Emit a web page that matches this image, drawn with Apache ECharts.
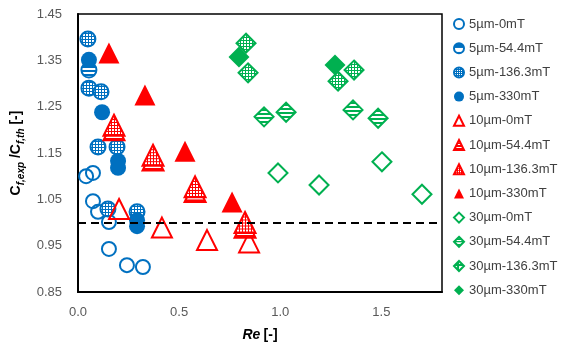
<!DOCTYPE html>
<html>
<head>
<meta charset="utf-8">
<script src="https://cdn.jsdelivr.net/npm/echarts@6/dist/echarts.min.js"></script>
<style>html,body{margin:0;padding:0;background:#fff;}#c{width:574px;height:343px;}</style>
</head>
<body>
<div id="c"></div>
<script>
// ---- data (Re, Cf_exp/Cf_th) ----
const xTickLabels = ['0.0', '0.5', '1.0', '1.5'];
const yTickLabels = ['0.85', '0.95', '1.05', '1.15', '1.25', '1.35', '1.45'];
const seriesNames = ['5µm-0mT','5µm-54.4mT','5µm-136.3mT','5µm-330mT','10µm-0mT','10µm-54.4mT','10µm-136.3mT','10µm-330mT','30µm-0mT','30µm-54.4mT','30µm-136.3mT','30µm-330mT'];
const s5_0 = [[0.040,1.100],[0.074,1.107],[0.074,1.046],[0.099,1.023],[0.153,1.001],[0.153,0.943],[0.242,0.908],[0.321,0.904]];
const s5_54 = [[0.054,1.329]];
const s5_136 = [[0.049,1.396],[0.054,1.290],[0.114,1.282],[0.099,1.163],[0.193,1.163],[0.148,1.029],[0.292,1.023]];
const s5_330 = [[0.054,1.351],[0.119,1.238],[0.198,1.133],[0.198,1.118],[0.292,1.005],[0.292,0.992]];
const s10_0 = [[0.203,1.029],[0.415,0.989],[0.638,0.962],[0.846,0.957]];
const s10_54 = [[0.178,1.200],[0.371,1.135],[0.579,1.067],[0.826,0.990]];
const s10_136 = [[0.178,1.210],[0.371,1.145],[0.579,1.077],[0.826,1.000]];
const s10_330 = [[0.153,1.366],[0.331,1.275],[0.529,1.154],[0.762,1.044]];
const s30_0 = [[0.989,1.107],[1.192,1.081],[1.503,1.131],[1.701,1.061]];
const s30_54 = [[0.920,1.228],[1.029,1.238],[1.360,1.243],[1.484,1.225]];
const s30_136 = [[0.831,1.387],[0.841,1.323],[1.365,1.329],[1.286,1.305]];
const s30_330 = [[0.796,1.357],[1.271,1.340]];
const refLine = 1.0;

const BLUE = '#0070C0', RED = '#FF0000', GREEN = '#00B050';

// symbols are drawn in a unit (-1..1) space scaled by size/2, so scale the pattern back
function stripe(col, size) {
  const c = document.createElement('canvas'); c.width = 8; c.height = 8;
  const g = c.getContext('2d');
  g.fillStyle = '#fff'; g.fillRect(0,0,8,8);
  g.fillStyle = col; g.fillRect(0,0,8,4);
  const k = 2 / size / 2;
  return {image: c, repeat: 'repeat', scaleX: k, scaleY: k};
}
function grid(col, size) {
  const c = document.createElement('canvas'); c.width = 6; c.height = 6;
  const g = c.getContext('2d');
  g.fillStyle = '#fff'; g.fillRect(0,0,6,6);
  g.fillStyle = col; g.fillRect(0,0,6,2); g.fillRect(0,0,2,6);
  const k = 2 / size / 2;
  return {image: c, repeat: 'repeat', scaleX: k, scaleY: k};
}

function mk(name, data, symbol, size, col, fill) {
  let color;
  if (fill === 'hollow') color = 'rgba(255,255,255,0)';
  else if (fill === 'stripe') color = stripe(col, size);
  else if (fill === 'grid') color = grid(col, size);
  else color = col;
  return {
    name, type: 'scatter', data, symbol, symbolSize: size,
    itemStyle: {color, borderColor: col, borderWidth: fill === 'solid' ? 0 : 2, opacity: 1},
    emphasis: {disabled: true}
  };
}

const series = [
  mk(seriesNames[0], s5_0, 'circle', 14, BLUE, 'hollow'),
  mk(seriesNames[1], s5_54, 'circle', 15, BLUE, 'stripe'),
  mk(seriesNames[2], s5_136, 'circle', 15, BLUE, 'grid'),
  mk(seriesNames[3], s5_330, 'circle', 16, BLUE, 'solid'),
  mk(seriesNames[4], s10_0, 'triangle', 20, RED, 'hollow'),
  mk(seriesNames[5], s10_54, 'triangle', 21, RED, 'stripe'),
  mk(seriesNames[6], s10_136, 'triangle', 21, RED, 'grid'),
  mk(seriesNames[7], s10_330, 'triangle', 21, RED, 'solid'),
  mk(seriesNames[8], s30_0, 'diamond', 19, GREEN, 'hollow'),
  mk(seriesNames[9], s30_54, 'diamond', 19, GREEN, 'stripe'),
  mk(seriesNames[10], s30_136, 'diamond', 19, GREEN, 'grid'),
  mk(seriesNames[11], s30_330, 'diamond', 21, GREEN, 'solid')
];
series[0].markLine = {
  silent: true, symbol: 'none', label: {show: false},
  lineStyle: {color: '#000', type: [8, 5], width: 2},
  data: [{yAxis: refLine}]
};

const FONT = "'Liberation Sans', Arial, sans-serif";
const chart = echarts.init(document.getElementById('c'), null, {renderer: 'canvas'});
chart.setOption({
  animation: false,
  textStyle: {fontFamily: FONT},
  grid: {left: 78, right: 132, top: 14, bottom: 51, show: true, borderColor: '#000', borderWidth: 1.5, outerBoundsMode: 'none', containLabel: false},
  legend: {
    orient: 'vertical', left: 453, top: 17.5, padding: 0, itemGap: 11.2, itemWidth: 10, itemHeight: 10,
    data: seriesNames,
    textStyle: {fontSize: 13, color: '#404040', fontFamily: FONT}
  },
  xAxis: {
    type: 'value', min: 0, max: 1.8, interval: 0.5,
    axisLine: {show: true, onZero: false, lineStyle: {color: '#000', width: 2}},
    axisTick: {show: false}, splitLine: {show: false},
    axisLabel: {fontSize: 13, color: '#595959', margin: 14, fontFamily: FONT,
      formatter: v => { const s = v.toFixed(1); return xTickLabels.includes(s) ? s : ''; }},
    name: '{i|Re} {b|[-]}', nameLocation: 'middle', nameGap: 36,
    nameTextStyle: {rich: {i: {fontStyle: 'italic', fontWeight: 'bold', fontSize: 14, color: '#000', fontFamily: FONT},
                           b: {fontWeight: 'bold', fontSize: 14, color: '#000', fontFamily: FONT}}}
  },
  yAxis: {
    type: 'value', min: 0.85, max: 1.45, interval: 0.05,
    axisLine: {show: true, onZero: false, lineStyle: {color: '#000', width: 2}},
    axisTick: {show: false}, splitLine: {show: false},
    axisLabel: {fontSize: 13, color: '#595959', margin: 16, fontFamily: FONT,
      formatter: v => { const s = v.toFixed(2); return yTickLabels.includes(s) ? s : ''; }},
    name: '{b|C}{s|f,exp}{b| /C}{s|f,th}{b| [-]}', nameLocation: 'middle', nameGap: 49, nameRotate: 90,
    nameTextStyle: {rich: {
      b: {fontWeight: 'bold', fontSize: 14, color: '#000', fontFamily: FONT, lineHeight: 19, verticalAlign: 'middle'},
      s: {fontWeight: 'bold', fontStyle: 'italic', fontSize: 10, color: '#000', fontFamily: FONT, lineHeight: 19, verticalAlign: 'bottom'}
    }}
  },
  series
});
</script>
</body>
</html>
